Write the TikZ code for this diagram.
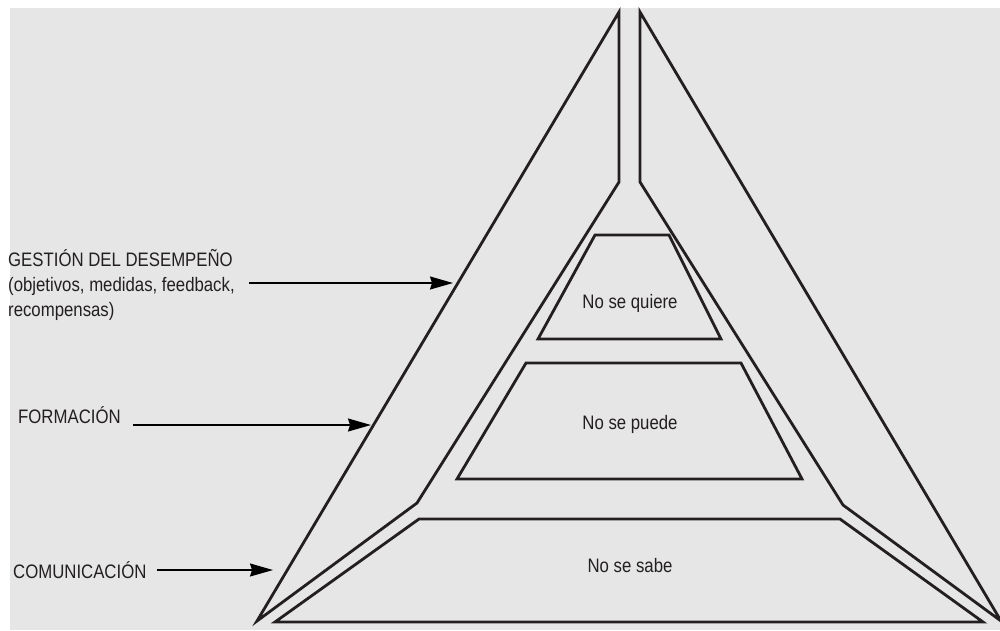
\documentclass[tikz,border=0pt]{standalone}
\usepackage{fontspec}
\setmainfont{Liberation Sans}[FakeStretch=0.86]
\usetikzlibrary{arrows.meta,positioning}
\definecolor{paper}{HTML}{E6E6E6}
\definecolor{ink}{HTML}{231F20}
\tikzstyle{wall}=[draw=ink,line width=2.8pt,line join=miter]
\tikzstyle{lbl}=[inner sep=0pt,anchor=base west,text=ink,align=left,
font=\fontsize{19.5}{25}\selectfont]
\tikzstyle{lvl}=[lbl,anchor=base,font=\fontsize{19.5}{24}\selectfont]
\tikzstyle{pointer}=[draw=black,line width=1.4pt,
-{Stealth[length=23pt,width=13pt,inset=2pt]}]

\begin{document}
\begin{tikzpicture}[x=1pt,y=-1pt]
  \useasboundingbox (0,0) rectangle (1000,630);
  \fill[paper] (10,8) rectangle (1000,630);

  % the two arms of the big triangle
  \draw[wall] (619,12) -- (619,182) -- (417,503) -- (257,621) -- cycle;
  \draw[wall] (640,12) -- (640,182) -- (843,505) -- (1001,621) -- cycle;

  % the three levels
  \draw[wall] (595,235) -- (669,235) -- (721,339) -- (538,339) -- cycle;
  \draw[wall] (526,363) -- (741,363) -- (802,479) -- (457,479) -- cycle;
  \draw[wall] (419,519) -- (840,519) -- (983,622) -- (275,622) -- cycle;

  \node[lvl] (q) at (630,308) {No se quiere};
  \node[lvl] (p) at (630,429) {No se puede};
  \node[lvl] (s) at (630,572) {No se sabe};

  % labels on the left (base = last line)
  \node[lbl] (gd) at (8,316) {GESTIÓN DEL DESEMPEÑO\\(objetivos, medidas, feedback,\\recompensas)};
  \node[lbl] (fo) at (18,423) {FORMACIÓN};
  \node[lbl] (co) at (13,578) {COMUNICACIÓN};

  \coordinate (gdtip) at (453,283);
  \coordinate (fotip) at (371,425);
  \coordinate (cotip) at (273,570);

  \draw[pointer] ([xshift=14pt]gd.east |- gdtip) -- (gdtip);
  \draw[pointer] ([xshift=12pt]fo.east |- fotip) -- (fotip);
  \draw[pointer] ([xshift=10pt]co.east |- cotip) -- (cotip);
\end{tikzpicture}
\end{document}
